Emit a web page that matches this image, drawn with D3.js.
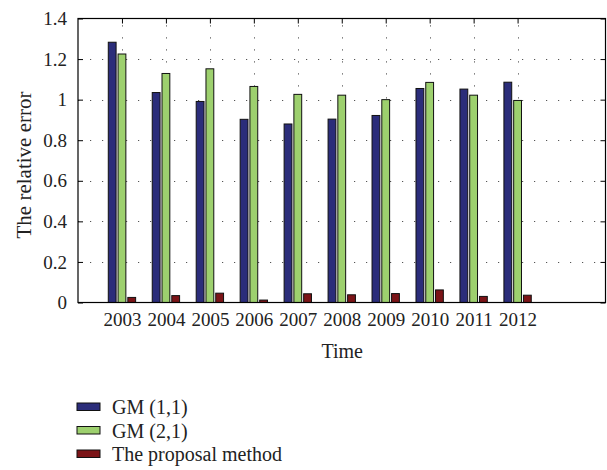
<!DOCTYPE html>
<html>
<head>
<meta charset="utf-8">
<script src="https://cdn.jsdelivr.net/npm/d3@7"></script>
<style>
  html, body { margin: 0; padding: 0; background: #fff; }
  svg { display: block; font-family: "Liberation Serif", "Times New Roman", serif; }
</style>
</head>
<body>
<svg id="chart" width="607" height="470"></svg>
<script>
// Relative error by year for each forecasting model
const years = ["2003", "2004", "2005", "2006", "2007", "2008", "2009", "2010", "2011", "2012"];
const gm11 = [1.283, 1.035, 0.991, 0.903, 0.880, 0.904, 0.922, 1.055, 1.052, 1.086];
const gm21 = [1.225, 1.129, 1.152, 1.065, 1.026, 1.022, 1.000, 1.085, 1.022, 0.996];
const proposal = [0.025, 0.034, 0.046, 0.012, 0.043, 0.038, 0.044, 0.062, 0.030, 0.036];
const seriesNames = ["GM (1,1)", "GM (2,1)", "The proposal method"];
const seriesColors = ["#2b2d7a", "#9dd06e", "#7b1417"];
const yTicks = [0, 0.2, 0.4, 0.6, 0.8, 1, 1.2, 1.4];

const series = [gm11, gm21, proposal];

const svg = d3.select("#chart");
const plot = { left: 78, right: 605.5, top: 18.5, bottom: 302.5 };

// Categories sit at integer positions 1..10 on a 0..12 axis
const x = d3.scaleLinear().domain([0, 12]).range([plot.left, plot.right]);
const y = d3.scaleLinear().domain([0, 1.4]).range([plot.bottom, plot.top]);

const nSeries = series.length;
const groupWidth = nSeries / (nSeries + 1.5);
const slot = groupWidth / nSeries;
const barWidth = slot * 0.8;

const g = svg.append("g");

// Dotted grid lines
const grid = g.append("g").attr("stroke", "#555").attr("stroke-width", 1)
  .attr("stroke-dasharray", "1.2,10.8");
grid.selectAll("line.h").data(yTicks.slice(1, -1)).join("line")
  .attr("x1", plot.left).attr("x2", plot.right)
  .attr("y1", d => Math.round(y(d)) + 0.5).attr("y2", d => Math.round(y(d)) + 0.5);
grid.selectAll("line.v").data(years.map((d, i) => i + 1)).join("line")
  .attr("x1", d => Math.round(x(d)) + 0.5).attr("x2", d => Math.round(x(d)) + 0.5)
  .attr("y1", plot.bottom).attr("y2", plot.top);

// Bars
series.forEach((vals, s) => {
  const off = (s - (nSeries - 1) / 2) * slot;
  g.append("g").selectAll("rect").data(vals).join("rect")
    .attr("x", (d, i) => x(i + 1 + off - barWidth / 2))
    .attr("width", x(barWidth) - x(0))
    .attr("y", d => y(d))
    .attr("height", d => y(0) - y(d))
    .attr("fill", seriesColors[s])
    .attr("stroke", "#111")
    .attr("stroke-width", 1);
});

// Frame
g.append("rect")
  .attr("x", plot.left).attr("y", plot.top)
  .attr("width", plot.right - plot.left).attr("height", plot.bottom - plot.top)
  .attr("fill", "none").attr("stroke", "#000").attr("stroke-width", 1.2);

// Y axis labels and inward ticks on both sides
const yAxis = d3.axisLeft(y).tickValues(yTicks).tickFormat(d3.format("~g"))
  .tickSizeInner(-5).tickSizeOuter(0).tickPadding(11);
const ya = svg.append("g").attr("transform", `translate(${plot.left},0)`).call(yAxis);
ya.select(".domain").remove();
ya.selectAll("text").attr("font-size", 19).attr("font-family", "Liberation Serif").attr("fill", "#222");
ya.selectAll("line").attr("stroke", "#000");

const yRight = d3.axisRight(y).tickValues(yTicks).tickSizeInner(-5).tickSizeOuter(0).tickFormat("");
const yr = svg.append("g").attr("transform", `translate(${plot.right},0)`).call(yRight);
yr.select(".domain").remove();
yr.selectAll("line").attr("stroke", "#000");

// X axis labels with inward ticks on the top edge
const xAxis = d3.axisBottom(x).tickValues(years.map((d, i) => i + 1))
  .tickFormat(d => years[d - 1]).tickSizeInner(0).tickSizeOuter(0).tickPadding(10);
const xa = svg.append("g").attr("transform", `translate(0,${plot.bottom})`).call(xAxis);
xa.select(".domain").remove();
xa.selectAll("text").attr("font-size", 19).attr("font-family", "Liberation Serif").attr("fill", "#222");

const xTop = d3.axisTop(x).tickValues(years.map((d, i) => i + 1)).tickFormat("")
  .tickSizeInner(-5).tickSizeOuter(0);
const xt = svg.append("g").attr("transform", `translate(0,${plot.top})`).call(xTop);
xt.select(".domain").remove();
xt.selectAll("line").attr("stroke", "#000");

// Axis titles
svg.append("text")
  .attr("x", (plot.left + plot.right) / 2 + 0.5)
  .attr("y", 358)
  .attr("text-anchor", "middle")
  .attr("font-size", 20)
  .attr("fill", "#222")
  .text("Time");

svg.append("text")
  .attr("transform", `translate(31,165) rotate(-90)`)
  .attr("text-anchor", "middle")
  .attr("font-size", 21)
  .attr("fill", "#222")
  .text("The relative error");

// Legend
const legend = svg.append("g").attr("transform", "translate(77,403)");
const items = legend.selectAll("g").data(seriesNames).join("g")
  .attr("transform", (d, i) => `translate(0,${i * 23.5})`);
items.append("rect")
  .attr("width", 23).attr("height", 7.5)
  .attr("fill", (d, i) => seriesColors[i])
  .attr("stroke", "#111").attr("stroke-width", 1);
items.append("text")
  .attr("x", 35).attr("y", 11)
  .attr("font-size", 20)
  .attr("fill", "#222")
  .text(d => d);
</script>
</body>
</html>
